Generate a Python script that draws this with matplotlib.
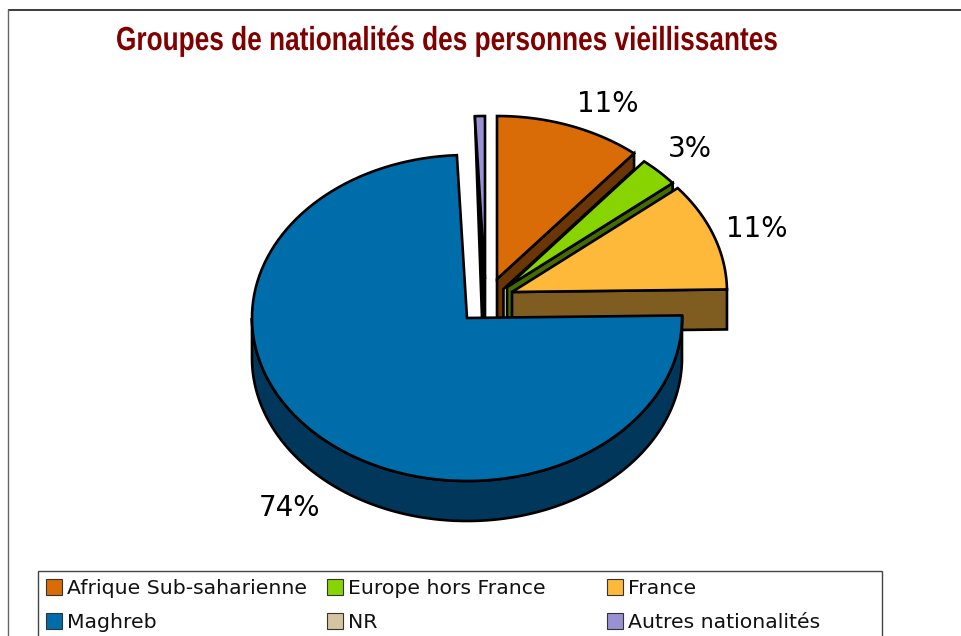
import numpy as np
import matplotlib
matplotlib.use("Agg")
import matplotlib.pyplot as plt
from matplotlib.patches import Rectangle
from matplotlib.patheffects import AbstractPathEffect
from matplotlib.transforms import Affine2D

# ---- data ----
categories = ["Afrique Sub-saharienne", "Europe hors France", "France",
              "Maghreb", "NR", "Autres nationalités"]
shares = [11, 3, 10.75, 74.5, 0, 0.75]
pct_labels = ["11%", "3%", "11%", "74%", None, None]

# ---- styles / layout ----
top_colors = ["#D96C06", "#88D400", "#FFB93A", "#006DAB", "#D4C4A0", "#9A91D4"]
side_colors = ["#6B3505", "#456B00", "#7F5C20", "#00375A", "#6A6250", "#000000"]
centers = [(497, 279), (507, 287), (512, 292), (467, 318), (467, 318), (485, 279)]
label_xy = [(608, 104), (690, 149), (757, 229), (290, 508)]
RX, RY, DEPTH = 215, 163, 40
BASE_Y = 318
LW = 1.9
EDGE = "black"


class SqueezeX(AbstractPathEffect):
    """Narrows glyphs horizontally about a pixel column (no narrow font is installed)."""

    def __init__(self, factor, x0):
        super().__init__()
        self.factor, self.x0 = factor, x0

    def draw_path(self, renderer, gc, tpath, affine, rgbFace=None):
        squeeze = Affine2D().translate(-self.x0, 0).scale(self.factor, 1).translate(self.x0, 0)
        renderer.draw_path(gc, tpath, affine + squeeze, rgbFace)


fig = plt.figure(figsize=(9.62, 6.36), dpi=100, facecolor="white")
ax = fig.add_axes([0, 0, 1, 1])
ax.set_xlim(0, 962)
ax.set_ylim(636, 0)
ax.axis("off")

fractions = np.asarray(shares, dtype=float) / np.sum(shares)
stops = np.concatenate([[0], np.cumsum(fractions)]) * 2 * np.pi


def point(center, angle):
    return center[0] + RX * np.sin(angle), center[1] - RY * np.cos(angle)


def top_face(i, z):
    a = np.linspace(stops[i], stops[i + 1], 120)
    c = centers[i]
    xs = np.r_[c[0], c[0] + RX * np.sin(a)]
    ys = np.r_[c[1], c[1] - RY * np.cos(a)]
    ax.fill(xs, ys, facecolor=top_colors[i], edgecolor=EDGE, lw=LW,
            joinstyle="miter", zorder=z)


def cut_side(i, drop, inset, z):
    # Visible cut face below the clockwise edge of a wedge.
    c = centers[i]
    ox, oy = point(c, stops[i + 1])
    slope = (c[1] - oy) / (c[0] - ox)
    ix = c[0] + inset
    iy = oy + drop + (ix - ox) * slope
    xs = [ox, ox, ix, ix, c[0], c[0]]
    ys = [oy, oy + drop, iy, BASE_Y + 2, BASE_Y + 2, c[1]]
    ax.fill(xs, ys, facecolor=side_colors[i], edgecolor=EDGE, lw=LW,
            joinstyle="miter", zorder=z)


# Autres nationalités (back)
i = 5
c = centers[i]
lx, ly = point(c, stops[i])
ax.fill([lx, 482, c[0], c[0]], [ly, BASE_Y, BASE_Y, c[1]],
        facecolor=side_colors[i], edgecolor=EDGE, lw=LW, zorder=1)
top_face(i, 2)

# Afrique
cut_side(0, 16, 6.5, 3)
top_face(0, 4)
# Europe
cut_side(1, 11.5, 5.5, 5)
top_face(1, 6)
# France
i = 2
c = centers[i]
ox, oy = point(c, stops[i + 1])
ax.fill([ox, ox, c[0], c[0]], [oy, oy + DEPTH, c[1] + DEPTH, c[1]],
        facecolor=side_colors[i], edgecolor=EDGE, lw=LW, joinstyle="miter", zorder=7)
top_face(i, 8)

# Maghreb
i = 3
c = centers[i]
a = np.linspace(stops[i], np.pi * 1.5, 200)
xs = c[0] + RX * np.sin(a)
ys = c[1] - RY * np.cos(a)
ax.fill(np.r_[xs, xs[::-1]], np.r_[ys, ys[::-1] + DEPTH],
        facecolor=side_colors[i], edgecolor=EDGE, lw=LW, zorder=9)
top_face(i, 10)

# Percent labels
for text, (x, y) in zip([t for t in pct_labels if t], label_xy):
    ax.text(x, y, text, fontsize=20, ha="center", va="center",
            family="DejaVu Sans", color="black", zorder=12)

# Title
ax.text(448, 41.5, "Groupes de nationalités des personnes vieillissantes",
        family=["Liberation Sans"], fontweight="bold",
        fontsize=24, color="#800000", ha="center", va="center", zorder=12,
        path_effects=[SqueezeX(0.787, 448)])

# Chart frame (open at the right and bottom)
ax.plot([8, 962], [9.5, 9.5], color="#1A1A1A", lw=1.2, zorder=0,
        solid_capstyle="butt")
ax.plot([8, 8], [636, 9], color="#666666", lw=1.0, zorder=0,
        solid_capstyle="butt")

# Legend
ax.add_patch(Rectangle((38, 570.5), 844, 90, facecolor="white",
                       edgecolor="#444444", lw=1.0, zorder=1))
col_x = [46, 327, 607]
row_y = [587, 621]
for k, (name, colour) in enumerate(zip(categories, top_colors)):
    x, y = col_x[k % 3], row_y[k // 3]
    ax.add_patch(Rectangle((x, y - 8), 16, 16, facecolor=colour,
                           edgecolor="#333333", lw=0.8, zorder=2))
    ax.text(x + 21, y + 1.5, name, fontsize=14.7, ha="left", va="center",
            family="DejaVu Sans", color="#111111", zorder=2)

fig.savefig("out.png", dpi=100, facecolor="white")
